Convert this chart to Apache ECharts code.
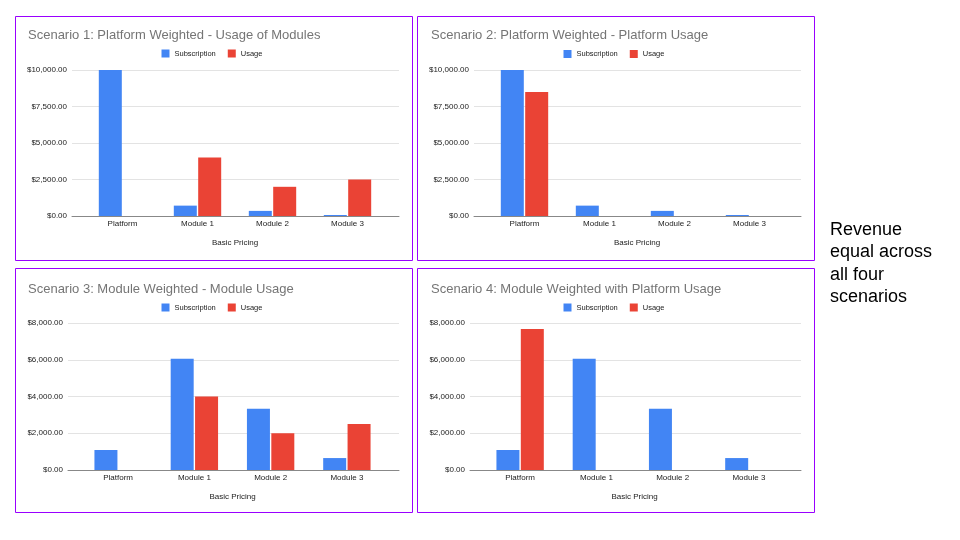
<!DOCTYPE html>
<html>
<head>
<meta charset="utf-8">
<title>Basic Pricing Scenarios</title>
<script src="https://cdn.jsdelivr.net/npm/echarts@6/dist/echarts.min.js"></script>
<style>
  html, body {margin: 0; padding: 0; background: #fff;}
  #chart {width: 960px; height: 540px;}
</style>
</head>
<body>
<div id="chart"></div>
<script>
// data
var categories = ['Platform', 'Module 1', 'Module 2', 'Module 3'];
var seriesNames = ['Subscription', 'Usage'];
var titles = [
  'Scenario 1: Platform Weighted - Usage of Modules',
  'Scenario 2: Platform Weighted - Platform Usage',
  'Scenario 3: Module Weighted - Module Usage',
  'Scenario 4: Module Weighted with Platform Usage'
];
var s1Subscription = [10000, 710, 350, 70];
var s1Usage = [0, 4000, 2000, 2500];
var s2Subscription = [10000, 710, 350, 70];
var s2Usage = [8500, 0, 0, 0];
var s3Subscription = [1090, 6060, 3340, 650];
var s3Usage = [0, 4000, 2000, 2500];
var s4Subscription = [1090, 6060, 3340, 650];
var s4Usage = [7680, 0, 0, 0];
var axisMax = [10000, 10000, 8000, 8000];
var axisStep = [2500, 2500, 2000, 2000];
var axisTitle = 'Basic Pricing';
var sideNote = 'Revenue\nequal across\nall four\nscenarios';

var FONT = "'Liberation Sans', Arial, sans-serif";
var BLUE = '#4285f4';
var RED = '#ea4335';

// box = panel border, plot = gridline area, bars = category band area
var layout = [
  {box: [15.5, 16.5, 397, 244], titleX: 28, titleY: 28.5, plot: [72, 70, 327, 146], bars: [85, 300]},
  {box: [417.5, 16.5, 397, 244], titleX: 431, titleY: 29, plot: [474, 70, 327, 146], bars: [487, 300]},
  {box: [15.5, 268.5, 397, 244], titleX: 28, titleY: 282.5, plot: [68, 323, 331, 147], bars: [80, 305]},
  {box: [417.5, 268.5, 397, 244], titleX: 431, titleY: 282.5, plot: [470, 323, 331, 147], bars: [482, 305]}
];

var subs = [s1Subscription, s2Subscription, s3Subscription, s4Subscription];
var uses = [s1Usage, s2Usage, s3Usage, s4Usage];

function money (v) {
  return '$' + Number(v).toLocaleString('en-US', {minimumFractionDigits: 2, maximumFractionDigits: 2});
}

var title = [];
var legend = [];
var grid = [];
var xAxis = [];
var yAxis = [];
var series = [];
var graphic = [];

layout.map(function (l, i) {
  title.push({
    text: titles[i],
    left: l.titleX,
    top: l.titleY,
    padding: 0,
    textStyle: {fontFamily: FONT, fontSize: 13, fontWeight: 'normal', color: '#757575'}
  });
  legend.push({
    data: seriesNames,
    left: l.box[0] + 146,
    top: l.titleY + 21,
    padding: 0,
    icon: 'rect',
    itemWidth: 8,
    itemHeight: 8,
    itemGap: 12,
    textStyle: {fontFamily: FONT, fontSize: 7.5, color: '#222'}
  });

  // grid with gridlines and the y labels
  grid.push({left: l.plot[0], top: l.plot[1], width: l.plot[2], height: l.plot[3]});
  // grid with the bars, a bit narrower like in the sheets chart
  grid.push({left: l.bars[0], top: l.plot[1], width: l.bars[1], height: l.plot[3]});

  xAxis.push({
    type: 'value',
    gridIndex: i * 2,
    min: 0,
    max: 1,
    axisLine: {show: true, lineStyle: {color: '#888', width: 1}},
    axisTick: {show: false},
    axisLabel: {show: false},
    splitLine: {show: false}
  });
  xAxis.push({
    type: 'category',
    gridIndex: i * 2 + 1,
    data: categories,
    axisLine: {show: false},
    axisTick: {show: false},
    axisLabel: {fontFamily: FONT, fontSize: 8, color: '#222', margin: 4},
    name: axisTitle,
    nameLocation: 'middle',
    nameGap: 23,
    nameTextStyle: {fontFamily: FONT, fontSize: 8, color: '#222'}
  });

  yAxis.push({
    type: 'value',
    gridIndex: i * 2,
    min: 0,
    max: axisMax[i],
    interval: axisStep[i],
    axisLine: {show: false},
    axisTick: {show: false},
    axisLabel: {fontFamily: FONT, fontSize: 8, color: '#222', margin: 5, formatter: money},
    splitLine: {lineStyle: {color: '#e3e3e3', width: 1}}
  });
  yAxis.push({
    type: 'value',
    gridIndex: i * 2 + 1,
    min: 0,
    max: axisMax[i],
    show: false,
    splitLine: {show: false}
  });

  series.push({
    name: seriesNames[0],
    type: 'bar',
    xAxisIndex: i * 2 + 1,
    yAxisIndex: i * 2 + 1,
    barWidth: 23,
    barGap: '6%',
    itemStyle: {color: BLUE},
    data: subs[i]
  });
  series.push({
    name: seriesNames[1],
    type: 'bar',
    xAxisIndex: i * 2 + 1,
    yAxisIndex: i * 2 + 1,
    barWidth: 23,
    barGap: '6%',
    itemStyle: {color: RED},
    data: uses[i]
  });

  graphic.push({
    type: 'rect',
    shape: {x: l.box[0], y: l.box[1], width: l.box[2], height: l.box[3]},
    style: {fill: 'none', stroke: '#9900ff', lineWidth: 1},
    silent: true
  });
});

graphic.push({
  type: 'text',
  left: 830,
  top: 219,
  style: {text: sideNote, font: '18px ' + FONT, fill: '#000', lineHeight: 22.3}
});

var myChart = echarts.init(document.getElementById('chart'), null, {renderer: 'canvas'});
var option = {
  animation: false,
  title: title,
  legend: legend,
  grid: grid,
  xAxis: xAxis,
  yAxis: yAxis,
  series: series,
  graphic: graphic
};
option && myChart.setOption(option);
</script>
</body>
</html>
